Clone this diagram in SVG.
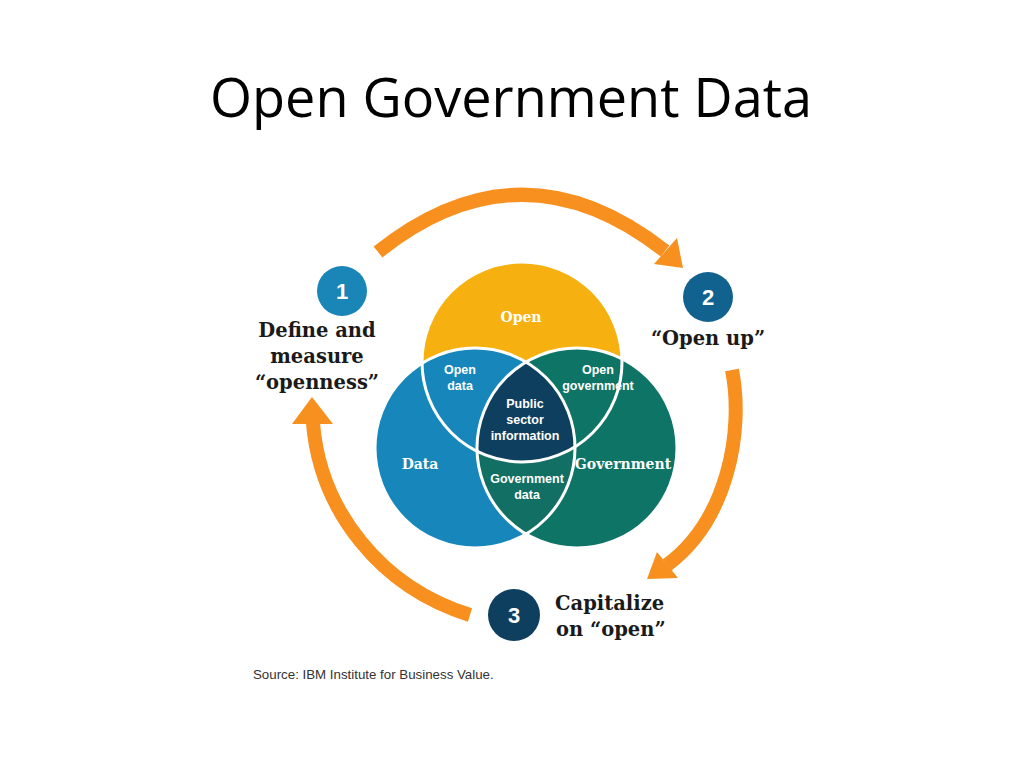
<svg xmlns="http://www.w3.org/2000/svg" width="1024" height="768" viewBox="0 0 1024 768">
  <defs>
    <style>
      .title { font-family: "Open Sans", "Liberation Sans", sans-serif; font-size: 54px; fill: #000; }
      .slab { font-family: "DejaVu Serif", "Liberation Serif", serif; font-weight: bold; font-size: 19.5px; fill: #1a1a1a; text-anchor: middle; }
      .slab-l { font-family: "DejaVu Serif", "Liberation Serif", serif; font-weight: bold; font-size: 19.5px; fill: #1a1a1a; text-anchor: start; }
      .vlab { font-family: "DejaVu Serif", "Liberation Serif", serif; font-weight: bold; font-size: 14px; fill: #fff; text-anchor: middle; }
      .slab-sm { font-family: "Liberation Sans", Arial, sans-serif; font-weight: bold; font-size: 12.5px; fill: #fff; text-anchor: middle; }
      .num { font-family: "Liberation Sans", Arial, sans-serif; font-weight: bold; font-size: 22px; fill: #fff; text-anchor: middle; }
      .src { font-family: "Liberation Sans", Arial, sans-serif; font-size: 13.3px; fill: #333; }
      .arc { fill: none; stroke: #F7901E; stroke-width: 14; }
      .head { fill: #F7901E; }
      .ring { fill: none; stroke: #fff; stroke-width: 3; }
    </style>
    <clipPath id="cOpen"><circle cx="522" cy="362" r="100"/></clipPath>
    <clipPath id="cData"><circle cx="475" cy="448" r="100"/></clipPath>
    <clipPath id="cGov"><circle cx="577" cy="448" r="100"/></clipPath>
  </defs>
  <rect width="1024" height="768" fill="#fff"/>

  <text class="title" x="511" y="117" text-anchor="middle">Open Government Data</text>

  <g id="connectors">
    <path class="arc" d="M 378 252 Q 521 138 665 251"/>
    <polygon class="head" points="683,268 654,264 677,238"/>
    <path class="arc" d="M 732 370 C 744 430 728 520 667 565"/>
    <polygon class="head" points="647,579 657,552 678,578"/>
    <path class="arc" d="M 470 615 C 380 587 320 510 313 423"/>
    <polygon class="head" points="312,397 292,424 333,424"/>
  </g>

  <g id="venn">
    <circle cx="475" cy="448" r="100" fill="#1787BB"/>
    <circle cx="577" cy="448" r="100" fill="#0E7466"/>
    <circle cx="522" cy="362" r="100" fill="#F6B111"/>
    <g clip-path="url(#cOpen)">
      <circle cx="475" cy="448" r="100" fill="#1787BB"/>
      <circle cx="577" cy="448" r="100" fill="#0E7466"/>
    </g>
    <g clip-path="url(#cData)">
      <circle cx="577" cy="448" r="100" fill="#126F63"/>
      <g clip-path="url(#cOpen)">
        <circle cx="577" cy="448" r="100" fill="#0F3F5F"/>
      </g>
    </g>
    <circle class="ring" cx="475" cy="448" r="100"/>
    <circle class="ring" cx="577" cy="448" r="100"/>
    <circle class="ring" cx="522" cy="362" r="100"/>
  </g>

  <g id="node-open"><text class="vlab" x="521" y="322">Open</text></g>
  <g id="node-data"><text class="vlab" x="420" y="469">Data</text></g>
  <g id="node-government"><text class="vlab" x="623" y="469">Government</text></g>
  <g id="node-open-data">
    <text class="slab-sm" x="460" y="374">Open</text>
    <text class="slab-sm" x="460" y="390">data</text>
  </g>
  <g id="node-open-government">
    <text class="slab-sm" x="598" y="374">Open</text>
    <text class="slab-sm" x="598" y="390">government</text>
  </g>
  <g id="node-psi">
    <text class="slab-sm" x="525" y="408">Public</text>
    <text class="slab-sm" x="525" y="424">sector</text>
    <text class="slab-sm" x="525" y="440">information</text>
  </g>
  <g id="node-government-data">
    <text class="slab-sm" x="527" y="483">Government</text>
    <text class="slab-sm" x="527" y="499">data</text>
  </g>

  <g id="step1">
    <circle cx="342" cy="291" r="25" fill="#1A86B8"/>
    <text class="num" x="342" y="299">1</text>
    <text class="slab" x="317" y="337">Define and</text>
    <text class="slab" x="317" y="363">measure</text>
    <text class="slab" x="317" y="389">“openness”</text>
  </g>
  <g id="step2">
    <circle cx="708" cy="297" r="25" fill="#12628F"/>
    <text class="num" x="708" y="305">2</text>
    <text class="slab" x="708" y="345">“Open up”</text>
  </g>
  <g id="step3">
    <circle cx="514" cy="615" r="26" fill="#0F3F5F"/>
    <text class="num" x="514" y="623">3</text>
    <text class="slab-l" x="555" y="610">Capitalize</text>
    <text class="slab-l" x="556" y="636">on “open”</text>
  </g>

  <text class="src" x="253" y="679">Source: IBM Institute for Business Value.</text>
</svg>
